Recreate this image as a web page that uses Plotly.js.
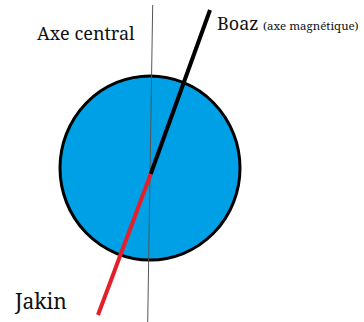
<!DOCTYPE html>
<html><head><meta charset="utf-8">
<script src="https://cdn.plot.ly/plotly-3.0.1.min.js"></script>
<style>html,body{margin:0;padding:0;background:#fff}</style>
</head><body><div id="g" style="width:364px;height:322px"></div>
<script>
// Diagram values (pixel-like coordinate space)
const circleCenter = [150, 168];
const circleRadius = [90, 92];
const axisX = [152.7, 147.7];
const axisY = [5, 322];
const boazX = [210, 150.7];
const boazY = [10, 174];
const jakinX = [150.7, 98];
const jakinY = [174, 315];
const labels = ["Axe central", "Boaz", "(axe magnétique)", "Jakin"];

const traces = [
  {x: axisX, y: axisY, mode: 'lines', line: {color: '#555', width: 1}, hoverinfo: 'skip'},
  {x: boazX, y: boazY, mode: 'lines', line: {color: '#000', width: 4}, hoverinfo: 'skip'},
  {x: jakinX, y: jakinY, mode: 'lines', line: {color: '#e3202a', width: 4}, hoverinfo: 'skip'}
];
const serif = 'Noto Serif, Liberation Serif, serif';
const layout = {
  width: 364, height: 322, margin: {l: 0, r: 0, t: 0, b: 0},
  paper_bgcolor: '#fff', plot_bgcolor: '#fff', showlegend: false,
  xaxis: {range: [0, 364], visible: false, fixedrange: true},
  yaxis: {range: [322, 0], visible: false, fixedrange: true},
  shapes: [{type: 'circle', xref: 'x', yref: 'y', layer: 'below',
    x0: circleCenter[0] - circleRadius[0], x1: circleCenter[0] + circleRadius[0],
    y0: circleCenter[1] - circleRadius[1], y1: circleCenter[1] + circleRadius[1],
    fillcolor: '#00a0e6', line: {color: '#000', width: 3}}],
  annotations: [
    {x: 35, y: 33, xref: 'x', yref: 'y', text: labels[0], showarrow: false, xanchor: 'left', yanchor: 'middle', font: {family: serif, size: 18, color: '#111'}},
    {x: 215, y: 23, xref: 'x', yref: 'y', text: labels[1], showarrow: false, xanchor: 'left', yanchor: 'middle', font: {family: serif, size: 18, color: '#111'}},
    {x: 261, y: 25, xref: 'x', yref: 'y', text: labels[2], showarrow: false, xanchor: 'left', yanchor: 'middle', font: {family: serif, size: 11.5, color: '#111'}},
    {x: 12, y: 301, xref: 'x', yref: 'y', text: labels[3], showarrow: false, xanchor: 'left', yanchor: 'middle', font: {family: serif, size: 21, color: '#111'}}
  ]
};
Plotly.newPlot('g', traces, layout, {staticPlot: true, displayModeBar: false});
</script></body></html>
